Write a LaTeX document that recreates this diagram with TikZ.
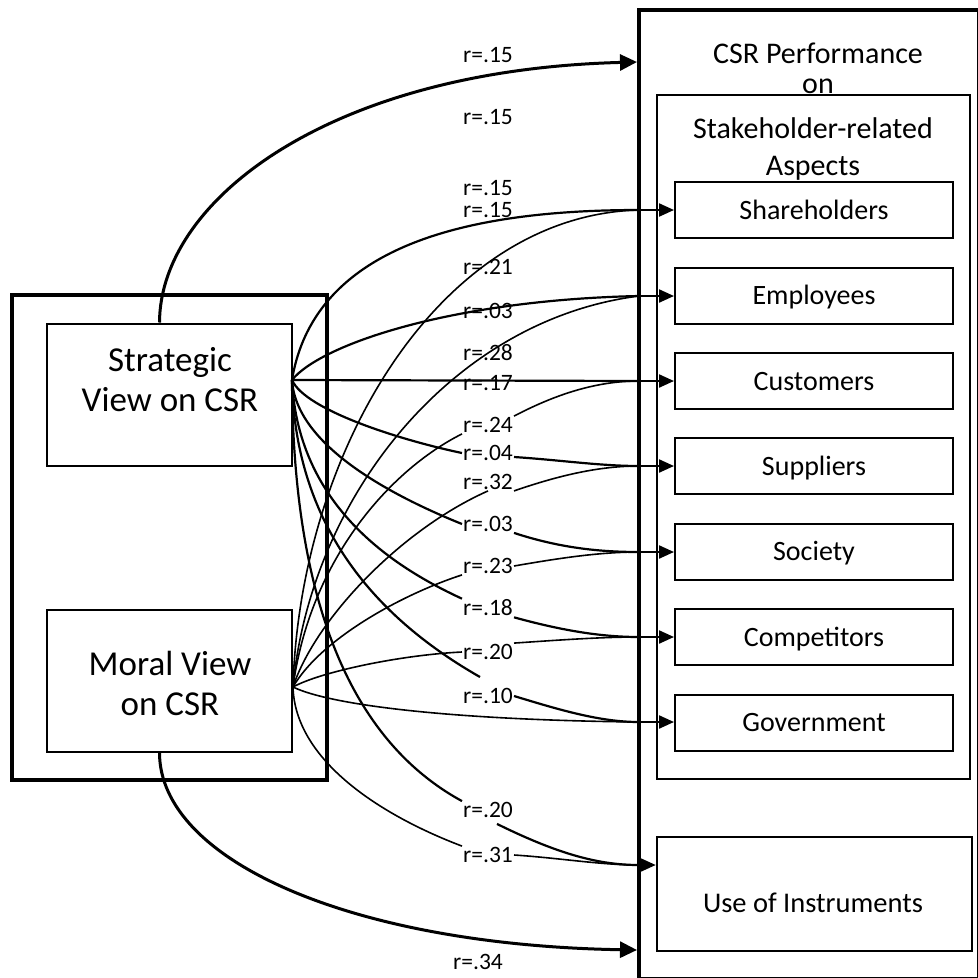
\documentclass[tikz,border=0pt]{standalone}
\usepackage{fontspec}
\setmainfont{Carlito}
\usetikzlibrary{arrows.meta}
\begin{document}
\begin{tikzpicture}[x=1pt,y=-1pt,
  box/.style={draw, line width=2pt, inner sep=0pt, minimum width=278pt, minimum height=56pt},
  lab/.style={font=\fontsize{23.5}{27}\selectfont, inner sep=1pt},
  nm/.style={font=\fontsize{28}{32}\selectfont, anchor=base},
  ttl/.style={font=\fontsize{30}{34}\selectfont, anchor=base},
  vw/.style={font=\fontsize{35}{40}\selectfont, anchor=base},
  sline/.style={line width=2.2pt},
  mline/.style={line width=1.6pt},
  arr/.style={line width=2.2pt, -{Triangle[length=15pt,width=13pt]}},
  big/.style={line width=3pt, -{Triangle[length=17pt,width=16pt]}}
]
\useasboundingbox (0,0) rectangle (978,978);

% left group
\node[draw, line width=4pt, inner sep=0pt, minimum width=315pt, minimum height=485pt] (lout) at (169.5,537.5) {};
\node[draw, line width=2pt, inner sep=0pt, minimum width=245pt, minimum height=142pt] (strat) at (169.5,394.5) {};
\node[draw, line width=2pt, inner sep=0pt, minimum width=245pt, minimum height=142pt] (moral) at (169.5,681) {};
\node[vw] at (170,371) {Strategic};
\node[vw] at (170,411) {View on CSR};
\node[vw] at (170,675) {Moral View};
\node[vw] at (170,715) {on CSR};

% right group
\node[draw, line width=4pt, inner sep=0pt, minimum width=340pt, minimum height=969pt] (rout) at (809,494.5) {};
\node[draw, line width=2.5pt, inner sep=0pt, minimum width=313pt, minimum height=684pt] (inner) at (813.5,437) {};
\node[ttl] at (818,63) {CSR Performance};
\node[ttl] at (818,93) {on};
\node[ttl] at (813,138) {Stakeholder-related};
\node[ttl] at (813,175) {Aspects};

\node[box] (share) at (814,210) {};
\node[box] (empl) at (814,295.5) {};
\node[box] (cust) at (814,381) {};
\node[box] (supp) at (814,466) {};
\node[box] (soc) at (814,551.5) {};
\node[box] (comp) at (814,637) {};
\node[box] (gov) at (814,722.5) {};
\node[nm] at (814,219) {Shareholders};
\node[nm] at (814,304.5) {Employees};
\node[nm] at (814,390) {Customers};
\node[nm] at (814,475) {Suppliers};
\node[nm] at (814,560.5) {Society};
\node[nm] at (814,646) {Competitors};
\node[nm] at (814,731.5) {Government};

\node[draw, line width=2.5pt, inner sep=0pt, minimum width=315pt, minimum height=114pt] (use) at (814.5,894) {};
\node[font=\fontsize{28.5}{32}\selectfont, anchor=base] at (813,912) {Use of Instruments};

% labels
\node[lab] (l15a) at (488,55) {r=.15};
\node[lab] (l15b) at (488,117) {r=.15};
\node[lab] (l15c) at (488,188) {r=.15};
\node[lab] (l15d) at (488,210) {r=.15};
\node[lab] (l21) at (488,267) {r=.21};
\node[lab] (l03a) at (488,311) {r=.03};
\node[lab] (l28) at (488,353) {r=.28};
\node[lab] (l17) at (488,383) {r=.17};
\node[lab] (l24) at (488,425) {r=.24};
\node[lab] (l04) at (488,453) {r=.04};
\node[lab] (l32) at (488,482) {r=.32};
\node[lab] (l03b) at (488,524) {r=.03};
\node[lab] (l23) at (488,566) {r=.23};
\node[lab] (l18) at (488,608) {r=.18};
\node[lab] (l20a) at (488,652) {r=.20};
\node[lab] (l10) at (488,696) {r=.10};
\node[lab] (l20b) at (488,810) {r=.20};
\node[lab] (l31) at (488,855) {r=.31};
\node[lab] (l34) at (478,962) {r=.34};

% coordinates
\coordinate (sv) at (292,380);
\coordinate (mv) at (293,687);
\coordinate (tIn) at (637,62);
\coordinate (bIn) at (637,950);
\coordinate (jSh) at (639,210);
\coordinate (jEm) at (639,296);
\coordinate (jCu) at (639,381);
\coordinate (jSu) at (639,466);
\coordinate (jSo) at (639,552);
\coordinate (jCo) at (639,637);
\coordinate (jGo) at (639,722);
\coordinate (jUs) at (639,865);
\coordinate (gEnd) at (480,677);

% big curves
\draw[big] ([xshift=-10pt]strat.north) .. controls (160,200) and (330,70) .. (tIn);
\draw[big] ([xshift=-10pt]moral.south) .. controls (160,860) and (350,945) .. (bIn);

% strategic lines
\draw[sline] (sv) .. controls (315,240) and (480,210) .. (jSh);
\draw[sline] (sv) .. controls (320,345) and (450,300) .. (jEm);
\draw[sline] (sv) -- (jCu);
\draw[sline] (sv) .. controls (305,410) and (400,440) .. (l04.west);
\draw[sline] ([yshift=-4pt]l04.east) .. controls (560,460) and (600,466) .. (jSu);
\draw[sline] (sv) .. controls (296,445) and (390,495) .. (l03b.west);
\draw[sline] (l03b.south east) .. controls (560,548) and (600,552) .. (jSo);
\draw[sline] (sv) .. controls (298,510) and (400,570) .. (l18.north west);
\draw[sline] (l18.south east) .. controls (560,630) and (600,637) .. (jCo);
\draw[sline] (sv) .. controls (295,530) and (380,620) .. (gEnd);
\draw[sline] (l10.east) .. controls (560,710) and (600,722) .. (jGo);
\draw[sline] (sv) .. controls (293,600) and (350,740) .. (l20b.north west);
\draw[sline] ([xshift=9pt,yshift=-5pt]l20b.south) .. controls (560,855) and (600,865) .. (jUs);

% moral lines
\draw[mline] (mv) .. controls (300,450) and (440,215) .. (jSh);
\draw[mline] (mv) .. controls (310,500) and (450,320) .. (jEm);
\draw[mline] (mv) .. controls (310,560) and (390,470) .. (l24.south west);
\draw[mline] (l24.north east) .. controls (560,392) and (600,381) .. (jCu);
\draw[mline] (mv) .. controls (315,620) and (400,530) .. (l32.south);
\draw[mline] (l32.south east) .. controls (560,475) and (600,466) .. (jSu);
\draw[mline] (mv) .. controls (320,640) and (400,595) .. (l23.south west);
\draw[mline] (l23.east) .. controls (560,558) and (600,552) .. (jSo);
\draw[mline] (mv) .. controls (320,672) and (400,655) .. (l20a.west);
\draw[mline] (l20a.north east) .. controls (560,640) and (600,637) .. (jCo);
\draw[mline] (mv) .. controls (330,705) and (450,720) .. (jGo);
\draw[mline] (mv) .. controls (295,760) and (380,815) .. (l31.north west);
\draw[mline] (l31.east) .. controls (560,858) and (600,865) .. (jUs);

% arrows into boxes
\draw[arr] (jSh) -- (share.west);
\draw[arr] (jEm) -- (jEm -| empl.west);
\draw[arr] (jCu) -- (cust.west);
\draw[arr] (jSu) -- (supp.west);
\draw[arr] (jSo) -- (jSo -| soc.west);
\draw[arr] (jCo) -- (comp.west);
\draw[arr] (jGo) -- (jGo -| gov.west);
\draw[arr] (jUs) -- (jUs -| use.west);
\end{tikzpicture}
\end{document}
